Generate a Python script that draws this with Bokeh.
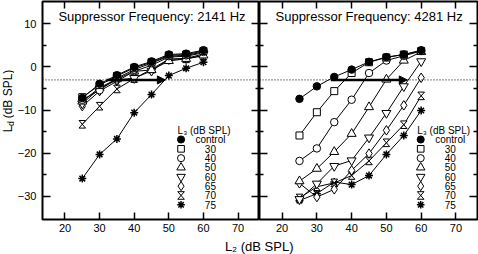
from bokeh.plotting import figure
from bokeh.models import Range1d, FixedTicker, LinearAxis, Label, Span, Arrow, NormalHead
from bokeh.layouts import row, column
from bokeh.embed import file_html
from bokeh.resources import INLINE
from bokeh.core.properties import value

# ---------------- data ----------------
l2_levels = [25, 30, 35, 40, 45, 50, 55, 60]
l3_labels = ["control", "30", "40", "50", "60", "65", "70", "75"]

left_control = [-7.2, -3.9, -1.9, 0.0, 1.3, 2.9, 3.1, 3.9]
left_30 = [-7.0, -4.2, -2.1, -0.2, 1.1, 2.7, 2.9, 3.7]
left_40 = [-7.6, -5.4, -2.6, -0.6, 0.9, 2.5, 2.7, 3.5]
left_50 = [-8.0, -4.8, -2.8, -1.0, -0.7, 1.4, 1.9, 2.7]
left_60 = [-8.5, -5.0, -3.0, -2.6, -0.9, 1.8, 2.0, 3.0]
left_65 = [-9.1, -5.6, -3.3, -1.0, 0.4, 2.3, 2.5, 3.3]
left_70 = [-13.3, -9.1, -5.1, -2.7, -0.5, 1.8, 1.9, 2.6]
left_75 = [-25.9, -20.3, -16.7, -10.6, -6.4, -2.0, -0.3, 1.1]

right_control = [-7.4, -4.5, -2.3, -0.6, 1.2, 2.3, 2.9, 3.9]
right_30 = [-15.9, -10.5, -5.6, -1.4, 1.1, 2.2, 2.9, 3.7]
right_40 = [-21.8, -18.9, -12.8, -7.6, -1.4, 1.5, 2.6, 3.7]
right_50 = [-26.5, -23.6, -19.7, -15.5, -9.3, -2.9, 1.5, 3.5]
right_60 = [-30.7, -27.1, -23.0, -21.7, -16.4, -10.7, -4.5, 1.3]
right_65 = [-27.0, -30.2, -28.4, -24.0, -20.1, -14.7, -8.9, -2.5]
right_70 = [-30.4, -27.8, -26.9, -25.2, -21.8, -17.6, -13.4, -6.7]
right_75 = [-31.0, -29.4, -26.7, -27.3, -25.2, -20.3, -15.9, -10.1]

titles = ["Suppressor Frequency: 2141 Hz", "Suppressor Frequency: 4281 Hz"]
criterion_level = -3
arrow_left = [32, 49]
arrow_right = [34, 56]
x_ticks = [20, 30, 40, 50, 60, 70]
y_ticks = [-30, -20, -10, 0, 10]
y_minor = [-25, -15, -5, 5]

# ---------------- layout constants ----------------
X0, X1 = 13.5, 76.2
Y0, Y1 = -35.4, 15.2
FW, FH = 218, 218
TOP = 1
FIG_H = 236
FONT = "Liberation Sans"

styles = [
    dict(marker="circle", size=7.5, fill="black"),
    dict(marker="square", size=7, fill="white"),
    dict(marker="circle", size=7.5, fill="white"),
    dict(marker="triangle", size=9, fill="white"),
    dict(marker="inverted_triangle", size=9, fill="white"),
    dict(marker="diamond", size=9.5, fill="white"),
    dict(marker="hourglass", size=7, fill="white"),
    dict(marker="asterisk", size=8, fill="white"),
]


def draw_markers(p, xs, ys, st):
    if st["marker"] == "hourglass":
        hw = 3.3 * (X1 - X0) / FW
        hh = 3.8 * (Y1 - Y0) / FH
        pxs = [[x - hw, x + hw, x - hw, x + hw] for x in xs]
        pys = [[y + hh, y + hh, y - hh, y - hh] for y in ys]
        p.patches(pxs, pys, fill_color="white", line_color="black", line_width=1)
    else:
        p.scatter(xs, ys, marker=st["marker"], size=st["size"], fill_color=st["fill"],
                  line_color="black", line_width=1.5 if st["marker"] == "asterisk" else 1)


def labeled_axis(ticks, minor, tick_len, minor_len, standoff, overrides=None):
    ax = LinearAxis(ticker=FixedTicker(ticks=ticks, minor_ticks=minor))
    ax.axis_line_color = None
    ax.major_tick_in = tick_len
    ax.major_tick_out = 0
    ax.minor_tick_in = minor_len
    ax.minor_tick_out = 0
    ax.major_tick_line_color = "black"
    ax.major_tick_line_width = 1.5
    ax.minor_tick_line_color = "black" if minor else None
    ax.minor_tick_line_width = 1.5
    ax.major_label_text_font = FONT
    ax.major_label_text_font_size = "11px"
    ax.major_label_text_color = "black"
    ax.major_label_standoff = standoff
    if overrides:
        ax.major_label_overrides = overrides
    return ax


def tick_only_axis(p, side, positions, length, loc):
    ax = LinearAxis(ticker=FixedTicker(ticks=[], minor_ticks=positions), fixed_location=loc)
    ax.axis_line_color = None
    ax.major_tick_line_color = None
    ax.minor_tick_in = length
    ax.minor_tick_out = 0
    ax.minor_tick_line_color = "black"
    ax.minor_tick_line_width = 1.5
    ax.major_label_standoff = 0
    p.add_layout(ax, side)


def build(series, title, arrow, frame_left, width, bl, br, legend_x0, first):
    p = figure(width=width, height=FIG_H, x_range=Range1d(X0, X1), y_range=Range1d(Y0, Y1),
               output_backend="svg", toolbar_location=None,
               x_axis_location=None, y_axis_location=None,
               min_border_left=bl, min_border_right=br, min_border_top=TOP, min_border_bottom=17)
    p.grid.visible = False
    p.outline_line_color = "black"
    p.outline_line_width = 2
    p.background_fill_color = "white"
    p.border_fill_color = "white"

    def xd(px):
        return X0 + (px - frame_left) / FW * (X1 - X0)

    def yd(py):
        return Y1 - (py - TOP) / FH * (Y1 - Y0)

    p.add_layout(labeled_axis(x_ticks, [], 7, 0, 4), "below")
    if first:
        y_over = {t: str(t).replace("-", "\u2212") for t in y_ticks}
        p.add_layout(labeled_axis(y_ticks, y_minor, 8, 4, 6, y_over), "left")
    else:
        tick_only_axis(p, "left", y_ticks, 8, X0)
        tick_only_axis(p, "left", y_minor, 4, X0)
    tick_only_axis(p, "right", y_ticks, 8, X1)
    tick_only_axis(p, "right", y_minor, 4, X1)
    tick_only_axis(p, "above", x_ticks, 7, Y1)

    p.add_layout(Span(location=criterion_level, dimension="width", line_color="black",
                      line_width=1, line_dash="1 2"))

    for i in reversed(range(len(series))):
        p.line(l2_levels, series[i], line_color="black", line_width=1)
        draw_markers(p, l2_levels, series[i], styles[i])

    p.add_layout(Arrow(x_start=arrow[0], y_start=criterion_level, x_end=arrow[1],
                       y_end=criterion_level, line_width=2.5, line_color="black",
                       end=NormalHead(size=8, fill_color="black", line_color="black", line_width=1)))

    p.add_layout(Label(x=xd(frame_left + 16), y=yd(16), text=title, text_font=FONT,
                       text_font_size="13px", text_baseline="middle", text_color="black"))

    # legend
    p.add_layout(Label(x=xd(legend_x0), y=yd(130), text="L\u2083 (dB SPL)", text_font=FONT,
                       text_font_size="10px", text_baseline="middle", text_color="black"))
    pitch = 9.33
    for i, st in enumerate(styles):
        draw_markers(p, [xd(legend_x0 + 3.5)], [yd(139 + pitch * i)], dict(st, size=st["size"] * 0.95))
    p.text(x=[xd(legend_x0 + 33)] * len(l3_labels),
           y=[yd(139 + pitch * i) for i in range(len(l3_labels))],
           text=l3_labels, text_align="center", text_baseline="middle",
           text_font=value(FONT), text_font_size="10px", text_color="black")
    return p


left_series = [left_control, left_30, left_40, left_50, left_60, left_65, left_70, left_75]
right_series = [right_control, right_30, right_40, right_50, right_60, right_65, right_70, right_75]

YL_W = 14
F1_BORDER = 41 - YL_W
f1 = build(left_series, titles[0], arrow_left, F1_BORDER, F1_BORDER + FW, F1_BORDER, 0,
           176.7 - YL_W, True)
f2 = build(right_series, titles[1], arrow_right, 0, FW + 1, 0, 1, 157.7, False)

# y-axis title panel: x grows right, y grows up (y = FIG_H - screen row)
f0 = figure(width=YL_W, height=FIG_H, x_range=Range1d(0, YL_W), y_range=Range1d(0, FIG_H),
            x_axis_location=None, y_axis_location=None, min_border=0,
            toolbar_location=None, output_backend="svg")
f0.outline_line_color = None
f0.grid.visible = False
ang = 1.5707963
f0.add_layout(Label(x=7.0, y=FIG_H - 141.5, text="L", angle=ang, text_font=FONT,
                    text_font_size="12px", text_baseline="middle", text_color="black"))
f0.add_layout(Label(x=10.0, y=FIG_H - 134.8, text="d", angle=ang, text_font=FONT,
                    text_font_size="8.5px", text_baseline="middle", text_color="black"))
f0.add_layout(Label(x=7.0, y=FIG_H - 126.5, text="(dB SPL)", angle=ang, text_font=FONT,
                    text_font_size="12px", text_baseline="middle", text_color="black"))

# x-axis title panel
f3 = figure(width=478, height=254 - FIG_H, x_range=Range1d(0, 478), y_range=Range1d(0, 254 - FIG_H),
            x_axis_location=None, y_axis_location=None, min_border=0,
            toolbar_location=None, output_backend="svg")
f3.outline_line_color = None
f3.grid.visible = False
f3.add_layout(Label(x=258.7, y=8, text="L\u2082 (dB SPL)", text_align="center",
                    text_baseline="middle", text_font=FONT, text_font_size="13px",
                    text_color="black"))

layout = column(row(f0, f1, f2), f3)
open("out.html", "w").write(file_html(layout, INLINE))
